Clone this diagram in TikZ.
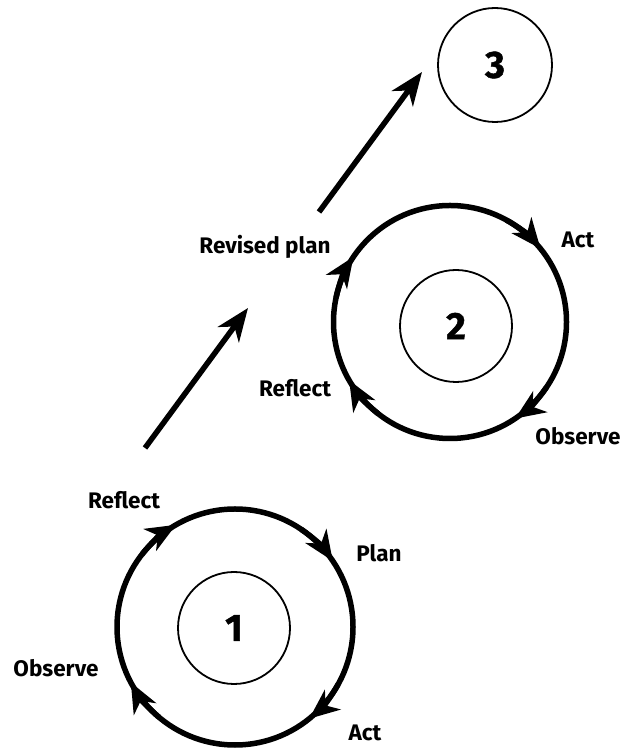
\documentclass[tikz,border=0pt]{standalone}
\usepackage{fontspec}
\setmainfont{Fira Sans}
\newfontfamily\numfont{Fira Sans}[BoldFeatures={FakeBold=1.2}]
\usetikzlibrary{arrows.meta,calc}
\tikzset{
  loop/.style={draw, circle, line width=5.5pt, minimum size=236pt, inner sep=0pt},
  hub/.style={draw, circle, line width=1.8pt, minimum size=112pt, inner sep=0pt,
    font=\numfont\fontsize{38}{40}\selectfont\bfseries},
  lbl/.style={font=\fontsize{22.5}{26}\selectfont\bfseries, inner sep=0pt},
  headtip/.style={line width=5.5pt, -{Stealth[length=30pt,width=25pt,inset=9pt]}},
  flow/.style={line width=5.5pt, -{Stealth[length=33pt,width=26pt,inset=10pt]}}
}
\begin{document}
\begin{tikzpicture}[x=1pt,y=1pt]
\useasboundingbox (0,0) rectangle (622,749);
% cycle 1
\node[loop] (o1) at (235,122) {};
\node[hub] (h1) at (234,121) {1};
\foreach \a in {120,34,-51,208}
  \draw[headtip] ($(o1.center)+(\a+22:118)$) arc[start angle=\a+22, end angle=\a, radius=118];
% cycle 2
\node[loop, minimum size=233pt] (o2) at (450,427) {};
\node[hub] (h2) at (456,423) {2};
\foreach \a in {146,39,-56,210}
  \draw[headtip] ($(o2.center)+(\a+22:116.5)$) arc[start angle=\a+22, end angle=\a, radius=116.5];
% stage 3
\node[hub, minimum size=114pt] (h3) at (495,684) {3};
% labels
\node[lbl] (r1) at (124,249) {Reflect};
\node[lbl] (p1) at (379,196) {Plan};
\node[lbl] (ob1) at (56,81) {Observe};
\node[lbl] (a1) at (365,16) {Act};
\node[lbl] (rp2) at (265,502) {Revised plan};
\node[lbl] (a2) at (578,509) {Act};
\node[lbl] (r2) at (295,361) {Reflect};
\node[lbl] (ob2) at (578,313) {Observe};
% progress arrows
\coordinate (s1) at (145,301);
\coordinate (e1) at (248,441);
\coordinate (s2) at (319,537);
\coordinate (e2) at (422,677);
\draw[flow] (s1) -- (e1);
\draw[flow] (s2) -- (e2);
\end{tikzpicture}
\end{document}
